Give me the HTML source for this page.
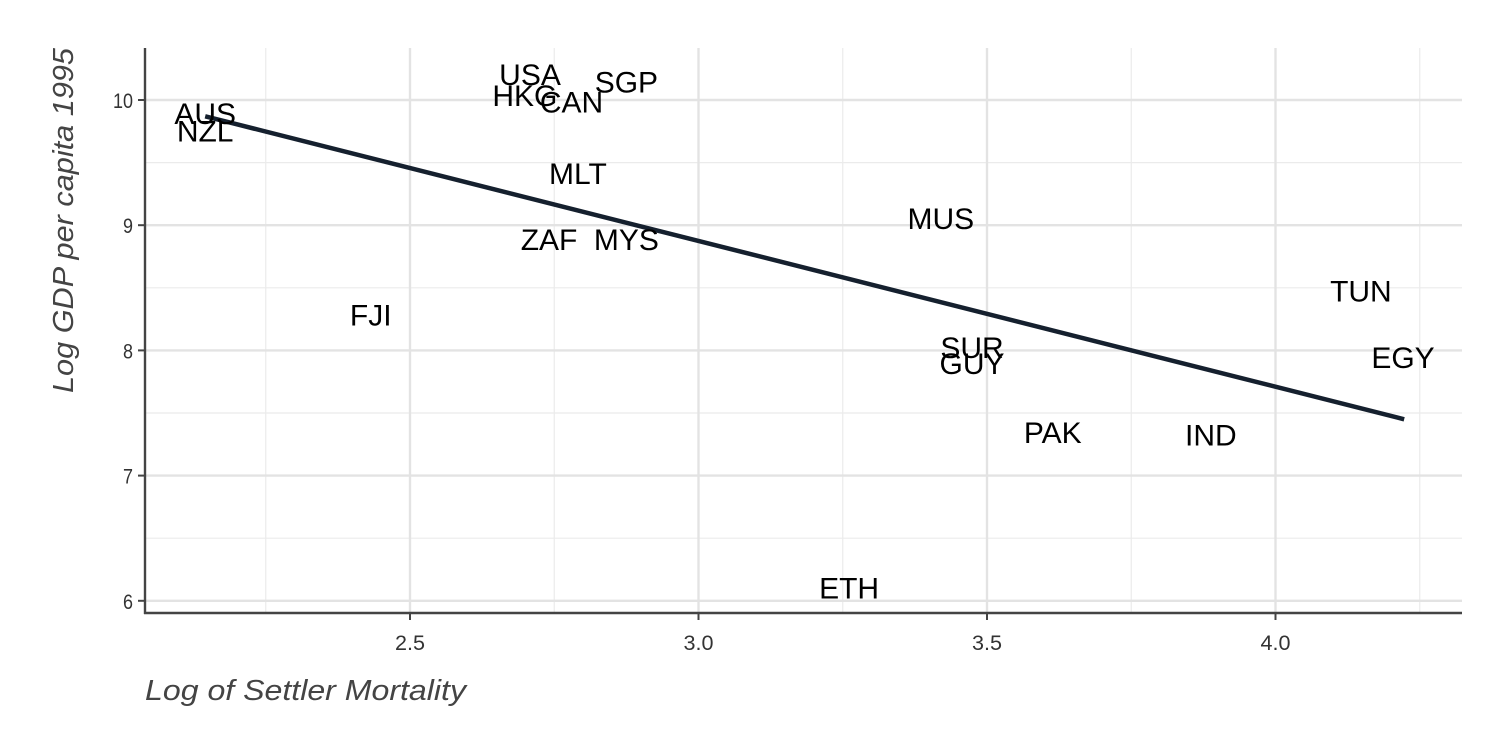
<!DOCTYPE html>
<html><head><meta charset="utf-8"><style>
html,body{margin:0;padding:0;background:#fff;}
svg{display:block;}
.tick{font-family:"Liberation Sans",sans-serif;font-size:21px;fill:#333;}
.lab{font-family:"Liberation Sans",sans-serif;font-size:30px;fill:#000;}
.title{font-family:"Liberation Sans",sans-serif;font-size:29px;font-style:italic;fill:#444;}
</style></head><body>
<svg id="chart" width="1512" height="756" xmlns="http://www.w3.org/2000/svg">
<g id="grid"></g>
<g id="marks"></g>
<g id="axes"></g>
<text class="title" x="145" y="700" textLength="321" lengthAdjust="spacingAndGlyphs">Log of Settler Mortality</text>
<text class="title" transform="translate(73,393) rotate(-90)" textLength="345" lengthAdjust="spacingAndGlyphs">Log GDP per capita 1995</text>
</svg>
<script>
const countries=["AUS","NZL","USA","HKG","CAN","SGP","MLT","ZAF","MYS","MUS","FJI","SUR","GUY","PAK","IND","TUN","EGY","ETH"];
const mortality=[2.145,2.145,2.708,2.699,2.78,2.875,2.791,2.741,2.875,3.42,2.432,3.474,3.474,3.614,3.888,4.148,4.221,3.261];
const gdp=[9.89,9.75,10.2,10.03,9.98,10.14,9.41,8.88,8.88,9.05,8.28,8.02,7.89,7.34,7.32,8.47,7.94,6.1];
const xTicks=[2.5,3.0,3.5,4.0];
const xTickLabels=["2.5","3.0","3.5","4.0"];
const yTicks=[6,7,8,9,10];
const yTickLabels=["6","7","8","9","10"];
const xMinor=[2.25,2.75,3.25,3.75,4.25];
const yMinor=[6.5,7.5,8.5,9.5];
const fitX=[2.145,4.223];
const fitY=[9.87,7.45];
const NS="http://www.w3.org/2000/svg";
const sx=v=>410+(v-2.5)*577;
const sy=v=>100+(10-v)*125.2;
const L=145,R=1462,T=48,B=613;
function mk(tag,attrs,parent){const e=document.createElementNS(NS,tag);for(const k in attrs)e.setAttribute(k,attrs[k]);parent.appendChild(e);return e;}
const grid=document.getElementById('grid'),marks=document.getElementById('marks'),axes=document.getElementById('axes');
xMinor.forEach(v=>{const e=mk('line',{x1:sx(v),x2:sx(v),y1:T,y2:B,stroke:'#ebebeb','stroke-width':1.2},grid);

});
yMinor.forEach(v=>{const e=mk('line',{x1:L,x2:R,y1:sy(v),y2:sy(v),stroke:'#ebebeb','stroke-width':1.2},grid);

});
xTicks.forEach((v,i)=>{const e=mk('line',{x1:sx(v),x2:sx(v),y1:T,y2:B,stroke:'#e3e3e3','stroke-width':2.4},grid);


const t=mk('line',{x1:sx(v),x2:sx(v),y1:B,y2:B+7,stroke:'#444','stroke-width':2},axes);


const l=mk('text',{x:sx(v),y:B+37,'text-anchor':'middle',class:'tick',textLength:30,lengthAdjust:'spacingAndGlyphs'},axes);l.textContent=xTickLabels[i];

});
yTicks.forEach((v,i)=>{const e=mk('line',{x1:L,x2:R,y1:sy(v),y2:sy(v),stroke:'#e3e3e3','stroke-width':2.4},grid);


const t=mk('line',{x1:L-7,x2:L,y1:sy(v),y2:sy(v),stroke:'#444','stroke-width':2},axes);


const l=mk('text',{x:L-12,y:sy(v)+8,'text-anchor':'end',class:'tick',textLength:yTickLabels[i].length*10,lengthAdjust:'spacingAndGlyphs'},axes);l.textContent=yTickLabels[i];

});
const fit=mk('line',{x1:sx(fitX[0]),y1:sy(fitY[0]),x2:sx(fitX[1]),y2:sy(fitY[1]),stroke:'#15202e','stroke-width':4.5},marks);


countries.forEach((c,i)=>{const t=mk('text',{x:sx(mortality[i]),y:sy(gdp[i])+10,'text-anchor':'middle',class:'lab'},marks);t.textContent=c;

});
const ax=mk('line',{x1:L,x2:L,y1:T,y2:B+1,stroke:'#444','stroke-width':2.4},axes);


const bx=mk('line',{x1:L-1,x2:R,y1:B,y2:B,stroke:'#444','stroke-width':2.4},axes);


</script>
</body></html>
